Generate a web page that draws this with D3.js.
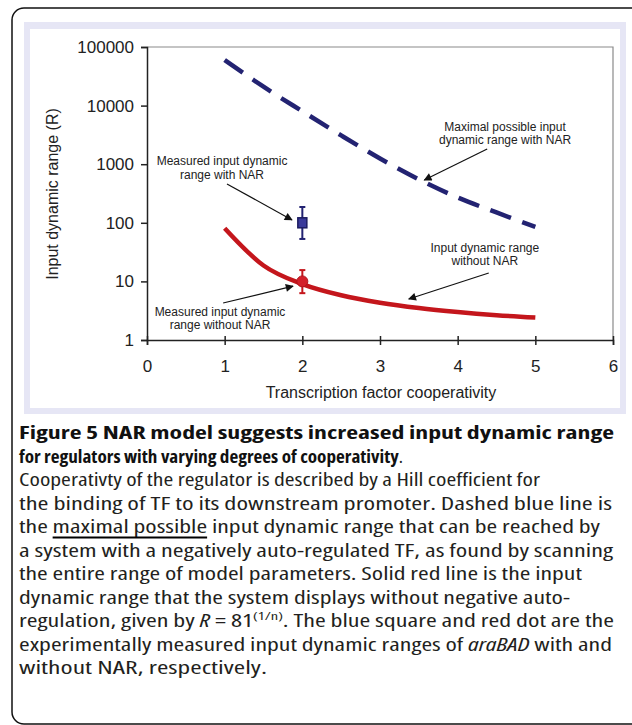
<!DOCTYPE html>
<html lang="en">
<head>
    <meta charset="UTF-8">
    <title>Figure 5</title>
    <script type="text/javascript" src="https://cdn.jsdelivr.net/npm/d3@7/dist/d3.min.js"></script>
    <style type="text/css">
        body {margin: 0; background: #fff;}
        .tick-label {font-family: "Liberation Sans", Arial, sans-serif; font-size: 17px; fill: #222;}
        .axis-title {font-family: "Liberation Sans", Arial, sans-serif; font-size: 16px; fill: #222;}
        .note {font-family: "Liberation Sans", Arial, sans-serif; font-size: 12px; fill: #222;}
        .caption {font-family: "Open Sans", "Noto Sans", sans-serif; font-size: 17.5px; font-stretch: 87.5%; fill: #231f20;}
    </style>
</head>
<body>
    <script type="text/javascript">

        //Width and height
        var w = 632;
        var h = 725;

        // data
        var xTicks = [0, 1, 2, 3, 4, 5, 6];
        var yTicks = [1, 10, 100, 1000, 10000, 100000];

        // maximal possible input dynamic range with NAR (dashed blue)
        var narN = [1, 1.5, 2, 2.5, 3, 3.5, 4, 4.5, 5];
        var narR = [60000, 21000, 8000, 3100, 1250, 550, 270, 150, 85];

        // input dynamic range without NAR (solid red)
        var noNarN = [1, 1.5, 2, 2.5, 3, 3.5, 4, 4.5, 5];
        var noNarR = [81, 18.7, 9, 5.8, 4.33, 3.51, 3, 2.65, 2.41];

        // measured points: n, value, low, high
        var measuredNar = [2, 100, 53, 186];
        var measuredNoNar = [2, 10, 6.3, 15.6];

        // annotations: lines, anchor (n, R), arrow from (n, R) to (n, R)
        var notes = [
            {lines: ["Measured input dynamic", "range with NAR"], at: [0.966, 969], from: [1.03, 459], to: [1.867, 112]},
            {lines: ["Measured input dynamic", "range without NAR"], at: [0.94, 2.57], from: [0.98, 4.28], to: [1.88, 8.3]},
            {lines: ["Maximal possible input", "dynamic range with NAR"], at: [4.61, 3690], from: [4.38, 1820], to: [3.57, 537]},
            {lines: ["Input dynamic range", "without NAR"], at: [4.35, 31.8], from: [4.40, 13.9], to: [3.37, 5.0]}
        ];

        var captionLines = [
            [{t: "Figure 5", b: true}, {t: " NAR model suggests increased input dynamic range", b: true}],
            [{t: "for regulators with varying degrees of cooperativity", b: true}, {t: "."}],
            [{t: "Cooperativty of the regulator is described by a Hill coefficient for"}],
            [{t: "the binding of TF to its downstream promoter. Dashed blue line is"}],
            [{t: "the "}, {t: "maximal possible", u: true}, {t: " input dynamic range that can be reached by"}],
            [{t: "a system with a negatively auto-regulated TF, as found by scanning"}],
            [{t: "the entire range of model parameters. Solid red line is the input"}],
            [{t: "dynamic range that the system displays without negative auto-"}],
            [{t: "regulation, given by "}, {t: "R", i: true}, {t: " = 81"}, {t: "(1/n)", sup: true}, {t: ". The blue square and red dot are the", down: true}],
            [{t: "experimentally measured input dynamic ranges of "}, {t: "araBAD", i: true}, {t: " with and"}],
            [{t: "without NAR, respectively."}]
        ];
        var captionEnds = [614, 403, 540, 612, 600, 613, 582, 570, 614, 612, 267];

        //Create SVG element
        var svg = d3.select("body")
            .append("svg")
            .attr("width", w)
            .attr("height", h);

        // outer rounded frame
        svg.append("rect")
            .attr("x", 12).attr("y", 8)
            .attr("width", 640).attr("height", 716)
            .attr("rx", 12)
            .attr("fill", "#fff")
            .attr("stroke", "#111")
            .attr("stroke-width", 1.5);

        // lavender panel behind the chart image
        svg.append("rect")
            .attr("x", 24).attr("y", 22)
            .attr("width", 602).attr("height", 392)
            .attr("fill", "#e6e6f5");
        svg.append("rect")
            .attr("x", 30).attr("y", 29)
            .attr("width", 590).attr("height", 379)
            .attr("fill", "#fff");

        var x = d3.scaleLinear().domain([0, 6]).range([147, 613]);
        var y = d3.scaleLog().domain([1, 100000]).range([340, 47]);

        // plot frame top & right
        svg.append("path")
            .attr("d", "M" + x(0) + "," + y(100000) + "H" + x(6) + "V" + y(1))
            .attr("fill", "none")
            .attr("stroke", "#8a8a8a")
            .attr("stroke-width", 1.2);

        // y axis
        var yAxis = svg.append("g")
            .attr("transform", "translate(" + x(0) + ",0)")
            .call(d3.axisLeft(y).tickValues(yTicks).tickSize(6).tickPadding(7).tickFormat(d3.format("d")));
        yAxis.select(".domain").attr("stroke", "#222").attr("stroke-width", 1.5);
        yAxis.selectAll(".tick line").attr("stroke", "#222").attr("stroke-width", 1.5);
        yAxis.selectAll(".tick text").attr("class", "tick-label").attr("font-size", null).attr("font-family", null);

        // x axis
        var xAxis = svg.append("g")
            .attr("transform", "translate(0," + y(1) + ")")
            .call(d3.axisBottom(x).tickValues(xTicks).tickSize(5).tickPadding(15).tickFormat(d3.format("d")));
        xAxis.select(".domain").attr("stroke", "#222").attr("stroke-width", 1.5);
        xAxis.selectAll(".tick line").attr("y1", -4).attr("stroke", "#222").attr("stroke-width", 1.5);
        xAxis.selectAll(".tick text").attr("class", "tick-label").attr("font-size", null).attr("font-family", null);

        // axis titles
        svg.append("text")
            .attr("class", "axis-title")
            .attr("x", 381).attr("y", 398)
            .attr("text-anchor", "middle")
            .text("Transcription factor cooperativity");
        svg.append("text")
            .attr("class", "axis-title")
            .attr("transform", "translate(58,194) rotate(-90)")
            .attr("text-anchor", "middle")
            .text("Input dynamic range (R)");

        var line = d3.line()
            .x(function(d) { return x(d[0]); })
            .y(function(d) { return y(d[1]); })
            .curve(d3.curveMonotoneX);

        // dashed blue line
        svg.append("path")
            .datum(d3.zip(narN, narR))
            .attr("d", line)
            .attr("fill", "none")
            .attr("stroke", "#232372")
            .attr("stroke-width", 4.5)
            .attr("stroke-dasharray", "22,12");

        // solid red line
        svg.append("path")
            .datum(d3.zip(noNarN, noNarR))
            .attr("d", line)
            .attr("fill", "none")
            .attr("stroke", "#c4161c")
            .attr("stroke-width", 4.5);

        // error bars
        function errorBar(m, color) {
            var g = svg.append("g").attr("stroke", color).attr("stroke-width", 2);
            g.append("line")
                .attr("x1", x(m[0])).attr("x2", x(m[0]))
                .attr("y1", y(m[2])).attr("y2", y(m[3]));
            [m[2], m[3]].forEach(function(v) {
                g.append("line")
                    .attr("x1", x(m[0]) - 3).attr("x2", x(m[0]) + 3)
                    .attr("y1", y(v)).attr("y2", y(v));
            });
        }
        errorBar(measuredNar, "#232372");
        errorBar(measuredNoNar, "#c4161c");

        svg.append("rect")
            .attr("x", x(measuredNar[0]) - 4.5).attr("y", y(measuredNar[1]) - 5)
            .attr("width", 9).attr("height", 10)
            .attr("fill", "#3a3a9a")
            .attr("stroke", "#1c1c60")
            .attr("stroke-width", 1.5);

        svg.append("circle")
            .attr("cx", x(measuredNoNar[0])).attr("cy", y(measuredNoNar[1]))
            .attr("r", 5.5)
            .attr("fill", "#d3202a")
            .attr("stroke", "#b0141c")
            .attr("stroke-width", 1);

        // arrow marker
        svg.append("defs").append("marker")
            .attr("id", "arrow")
            .attr("viewBox", "0 0 10 10")
            .attr("refX", 9).attr("refY", 5)
            .attr("markerWidth", 11).attr("markerHeight", 8)
            .attr("markerUnits", "userSpaceOnUse")
            .attr("orient", "auto")
            .append("path")
            .attr("d", "M0,0L10,5L0,10Z")
            .attr("fill", "#111");

        notes.forEach(function(n) {
            var t = svg.append("text")
                .attr("class", "note")
                .attr("text-anchor", "middle");
            n.lines.forEach(function(s, i) {
                t.append("tspan")
                    .attr("x", x(n.at[0]))
                    .attr("y", y(n.at[1]) + i * 13.5)
                    .text(s);
            });
            svg.append("line")
                .attr("x1", x(n.from[0])).attr("y1", y(n.from[1]))
                .attr("x2", x(n.to[0])).attr("y2", y(n.to[1]))
                .attr("stroke", "#111")
                .attr("stroke-width", 1.2)
                .attr("marker-end", "url(#arrow)");
        });

        // caption
        captionLines.forEach(function(parts, i) {
            var baseY = 439 + i * 23.5;
            var t = svg.append("text")
                .attr("class", "caption")
                .attr("x", 19)
                .attr("y", baseY)
                .attr("textLength", captionEnds[i] - 19)
                .attr("lengthAdjust", "spacingAndGlyphs");
            var pos = 0, underlines = [];
            parts.forEach(function(p) {
                var s = t.append("tspan").text(p.t);
                if (p.b) s.attr("font-weight", "bold").attr("fill", "#111");
                if (p.i) s.attr("font-style", "italic");
                if (p.sup) s.attr("font-size", "11px").attr("dy", -7);
                if (p.down) s.attr("dy", 7);
                if (p.u) underlines.push([pos, p.t.length]);
                pos += p.t.length;
            });
            var node = t.node();
            underlines.forEach(function(u) {
                var a = node.getStartPositionOfChar(u[0]).x;
                var b = node.getEndPositionOfChar(u[0] + u[1] - 1).x;
                svg.append("line")
                    .attr("x1", a).attr("x2", b)
                    .attr("y1", baseY + 4.5).attr("y2", baseY + 4.5)
                    .attr("stroke", "#000")
                    .attr("stroke-width", 2);
            });
        });

        </script>

</body>
</html>
